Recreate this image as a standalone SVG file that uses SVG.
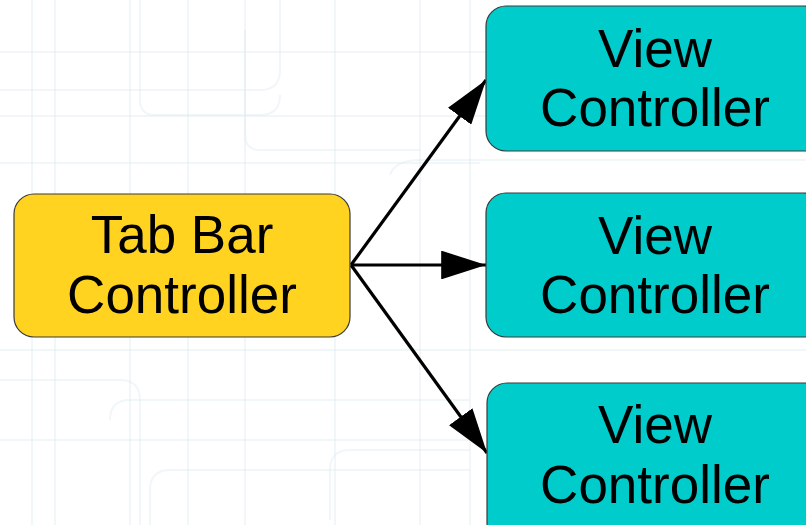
<svg xmlns="http://www.w3.org/2000/svg" width="806" height="525" viewBox="0 0 806 525">
  <defs>
    <style>
      .bg { fill: none; stroke: #dfeaf0; stroke-width: 2; opacity: 0.45; }
      .node rect { stroke: #3a3a3a; stroke-width: 1.2; }
      .tab rect { fill: #ffd320; }
      .vc rect { fill: #00cccc; }
      .node text { font-family: "Liberation Sans", Arial, sans-serif; font-size: 53px; fill: #000; text-anchor: middle; }
      .edge { stroke: #000; stroke-width: 3.2; fill: none; marker-end: url(#arrow); }
    </style>
    <marker id="arrow" viewBox="0 0 14 9" refX="14" refY="4.5" markerWidth="14" markerHeight="9" markerUnits="strokeWidth" orient="auto">
      <path d="M0,0 L14,4.5 L0,9 Z" fill="#000"/>
    </marker>
  </defs>
  <rect width="806" height="525" fill="#ffffff"/>
  <g id="background">
    <path class="bg" d="M32 0 V525 M55 0 V525 M130 0 V525 M188 0 V525 M245 0 V525 M335 0 V525 M420 0 V525 M470 0 V525"/>
    <path class="bg" d="M0 52 H806 M0 116 H806 M0 163 H480 M0 350 H806 M0 440 H480"/>
    <path class="bg" d="M0 90 H260 Q280 90 280 70 V0"/>
    <path class="bg" d="M140 0 V100 Q140 115 155 115 H260 Q280 115 280 95"/>
    <path class="bg" d="M245 30 V135 Q245 150 260 150 H420"/>
    <path class="bg" d="M390 175 Q395 160 420 160 H806"/>
    <path class="bg" d="M0 380 H120 Q140 380 140 400 V525"/>
    <path class="bg" d="M110 420 Q110 400 130 400 H470"/>
    <path class="bg" d="M150 525 V490 Q150 470 170 470 H470"/>
    <path class="bg" d="M330 520 V470 Q330 450 350 450 H470"/>
  </g>
  <g id="connectors">
    <line class="edge" x1="351" y1="265" x2="486" y2="80"/>
    <line class="edge" x1="351" y1="265" x2="486" y2="265"/>
    <line class="edge" x1="351" y1="265" x2="487" y2="453"/>
  </g>
  <g id="tabbar" class="node tab">
    <rect x="14" y="194" width="336" height="143" rx="20" ry="20"/>
    <text x="182" y="253">Tab Bar</text>
    <text x="182" y="313">Controller</text>
  </g>
  <g id="vc1" class="node vc">
    <rect x="486" y="6" width="338" height="145" rx="20" ry="20"/>
    <text x="655" y="67">View</text>
    <text x="655" y="126">Controller</text>
  </g>
  <g id="vc2" class="node vc">
    <rect x="486" y="193" width="338" height="144" rx="20" ry="20"/>
    <text x="655" y="254">View</text>
    <text x="655" y="313">Controller</text>
  </g>
  <g id="vc3" class="node vc">
    <rect x="487" y="383" width="338" height="160" rx="20" ry="20"/>
    <text x="655" y="443">View</text>
    <text x="655" y="503">Controller</text>
  </g>
</svg>
